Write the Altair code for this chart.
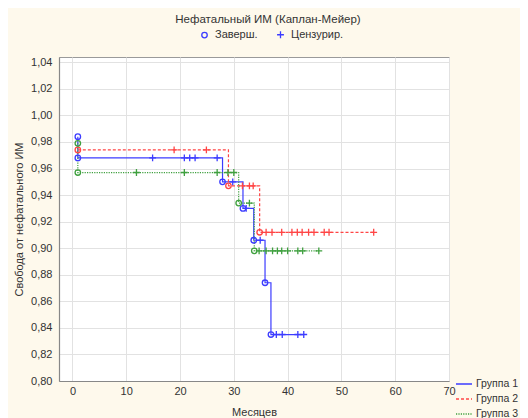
import altair as alt
import pandas as pd

# ---------------- data ----------------
groups = ["Группа 1", "Группа 2", "Группа 3"]
colors = ["#3c3cff", "#ff4545", "#3fa03f"]
dashes = [[1, 0], [3, 2], [1.2, 1.2]]

# completed events (circles): time, survival
g1_ev_t = [1, 1, 27.9, 31.7, 33.7, 35.8, 36.9]
g1_ev_s = [0.984, 0.968, 0.950, 0.930, 0.906, 0.874, 0.835]
g1_end = 43.0
g2_ev_t = [1, 29.0, 34.8]
g2_ev_s = [0.974, 0.947, 0.912]
g2_end = 56.0
g3_ev_t = [1, 1, 30.9, 33.8]
g3_ev_s = [0.979, 0.957, 0.934, 0.898]
g3_end = 45.8

# censored observations (plus marks)
g1_ce_t = [14.9, 20.8, 21.8, 22.8, 26.9, 29.8, 32.3, 34.9, 37.9, 39.0, 41.9, 43.0]
g1_ce_s = [0.968, 0.968, 0.968, 0.968, 0.968, 0.950, 0.930, 0.906, 0.835, 0.835, 0.835, 0.835]
g2_ce_t = [18.9, 24.9, 31.6, 32.9, 33.6, 36.0, 37.1, 38.9, 40.8, 41.8, 42.7, 43.9, 44.9, 46.8, 47.7, 56.0]
g2_ce_s = [0.974, 0.974, 0.947, 0.947, 0.947] + [0.912] * 11
g3_ce_t = [11.9, 20.8, 26.9, 28.9, 30.0, 32.9, 34.7, 36.0, 37.2, 38.1, 38.9, 40.0, 41.9, 42.8, 45.8]
g3_ce_s = [0.957] * 5 + [0.934] + [0.898] * 9

y_ticks = [0.80, 0.82, 0.84, 0.86, 0.88, 0.90, 0.92, 0.94, 0.96, 0.98, 1.00, 1.02, 1.04]
x_ticks = [0, 10, 20, 30, 40, 50, 60, 70]
kinds = ["Заверш.", "Цензурир."]

# ---------------- tables ----------------
ev = [(g1_ev_t, g1_ev_s, g1_end), (g2_ev_t, g2_ev_s, g2_end), (g3_ev_t, g3_ev_s, g3_end)]
ce = [(g1_ce_t, g1_ce_s), (g2_ce_t, g2_ce_s), (g3_ce_t, g3_ce_s)]

curve_rows, point_rows = [], []
for g, (ts, ss, end), (ct, cs) in zip(groups, ev, ce):
    i = 0
    for t, s in zip(ts, ss):
        curve_rows.append({"g": g, "t": t, "s": s, "i": i}); i += 1
        point_rows.append({"g": g, "t": t, "s": s, "k": kinds[0]})
    curve_rows.append({"g": g, "t": end, "s": ss[-1], "i": i})
    for t, s in zip(ct, cs):
        point_rows.append({"g": g, "t": t, "s": s, "k": kinds[1]})

curves = pd.DataFrame(curve_rows)
points = pd.DataFrame(point_rows)

FONT = "Liberation Sans"
TXT = "#333333"

xs = alt.Scale(domain=[-2.5, 70], nice=False, zero=False)
ys = alt.Scale(domain=[0.80, 1.044], nice=False, zero=False)

x_enc = alt.X("t:Q", scale=xs, axis=alt.Axis(
    values=x_ticks, title="Месяцев", format="d", labelPadding=4, titlePadding=10,
    grid=True, ticks=False, labelFlush=False, labelOverlap=False))
y_enc = alt.Y("s:Q", scale=ys, axis=alt.Axis(
    values=y_ticks, tickCount=13, title="Свобода от нефатального ИМ",
    format=".2f", labelPadding=7, titlePadding=6, grid=True, ticks=False,
    labelOverlap=False, labelFlush=False, labelSeparation=0))

lines = alt.Chart(curves).mark_line(interpolate="step-after", strokeWidth=1.2).encode(
    x=x_enc, y=y_enc, order="i:Q",
    color=alt.Color("g:N", scale=alt.Scale(domain=groups, range=colors),
                    legend=alt.Legend(title=None, orient="none", legendX=396, legendY=318,
                                      symbolType="stroke", symbolSize=256,
                                      symbolStrokeWidth=1.5, labelFontSize=10.5,
                                      labelColor=TXT, labelFont=FONT, rowPadding=-2.5,
                                      padding=0, labelOffset=3)),
    strokeDash=alt.StrokeDash("g:N", scale=alt.Scale(domain=groups, range=dashes), legend=None),
)

pts = alt.Chart(points).mark_point(filled=False, strokeWidth=1.3, size=30, opacity=1).encode(
    x=x_enc, y=y_enc,
    stroke=alt.Stroke("g:N", scale=alt.Scale(domain=groups, range=colors), legend=None),
    shape=alt.Shape("k:N", scale=alt.Scale(domain=kinds, range=["circle", "M-1.25,0L1.25,0M0,-1.25L0,1.25"]),
                    legend=alt.Legend(title=None, orient="none", direction="horizontal",
                                      legendX=140, legendY=-28, symbolStrokeColor="#3c3cff",
                                      symbolFillColor="transparent", symbolSize=30,
                                      symbolStrokeWidth=1.3, labelFontSize=11, labelColor=TXT,
                                      labelFont=FONT, columnPadding=16, padding=0, labelOffset=5)),
)

chart = alt.layer(lines, pts).properties(
    width=390, height=324,
    title=alt.TitleParams("Нефатальный ИМ (Каплан-Мейер)", fontSize=11.5, font=FONT,
                          color=TXT, fontWeight="normal", anchor="middle", frame="group",
                          offset=4, dx=14),
    autosize=alt.AutoSizeParams(type="none"),
    padding={"left": 51, "top": 49, "right": 71, "bottom": 60},
).configure(background="#fef9ec").configure_view(
    fill="white", stroke="#9a9a9a", strokeWidth=1
).configure_axis(
    labelFont=FONT, titleFont=FONT, labelFontSize=11, titleFontSize=11,
    labelColor=TXT, titleColor=TXT, titleFontWeight="normal",
    gridColor="#e2e2e2", gridWidth=1, domainColor="#888888", domainWidth=1.2,
)

chart.save("out.html", embed_options={
    "renderer": "svg", "actions": False,
    "formatLocale": {"decimal": ",", "thousands": "\u00a0", "grouping": [3], "currency": ["", " ₽"]},
})
